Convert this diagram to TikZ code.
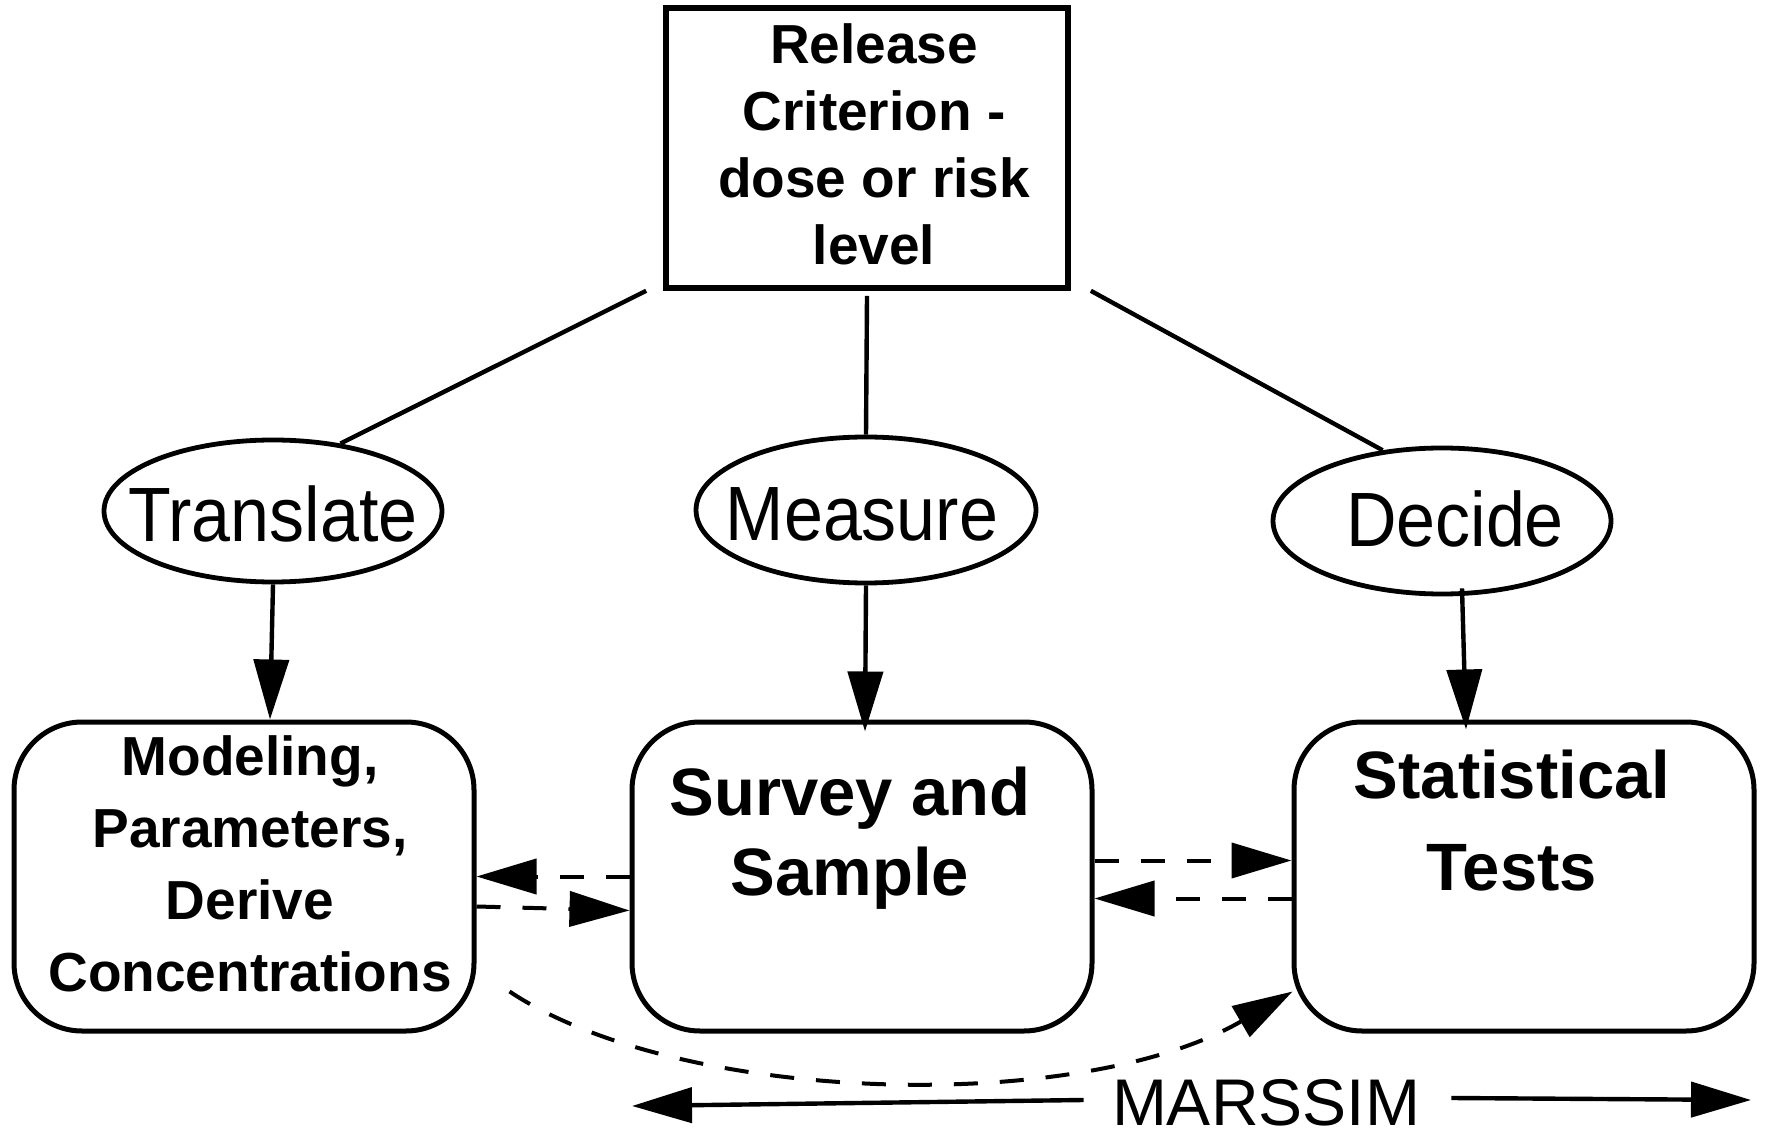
\documentclass[tikz,border=0pt]{standalone}
\usepackage{fontspec}
\setmainfont{Liberation Sans}
\usetikzlibrary{arrows.meta,shapes.geometric}
\begin{document}
\begin{tikzpicture}[x=0.5pt,y=-0.5pt,
  tip/.style={-{Triangle[length=30pt,width=17.5pt]}},
  conn/.style={line width=2.2pt},
  dsh/.style={line width=2pt, dash pattern=on 12pt off 11pt},
  rbox/.style={draw, line width=2.5pt, rounded corners=34pt, minimum width=230pt, minimum height=154.5pt, inner sep=0pt},
  oval/.style={draw, ellipse, line width=2.4pt, inner sep=0pt},
  ovtext/.style={inner sep=0pt, font=\fontsize{35pt}{40pt}\selectfont},
  smalltext/.style={inner sep=0pt, align=center, font=\fontsize{27.5pt}{36pt}\selectfont\bfseries},
  bigtext/.style={inner sep=0pt, align=center, font=\fontsize{33.5pt}{40pt}\selectfont\bfseries}]
\useasboundingbox (0,0) rectangle (1766,1138);

% top box
\node[draw, line width=2.8pt, minimum width=201pt, minimum height=140pt, inner sep=0pt] (rel) at (867,148) {};
\node[inner sep=0pt, align=center, font=\fontsize{27.5pt}{33.5pt}\selectfont\bfseries] (relt) at (874,144) {Release\\Criterion -\hspace*{14pt}\\dose or risk\\level};

% ellipses
\node[oval, minimum width=169pt, minimum height=71pt] (trans) at (273,511) {};
\node[oval, minimum width=170pt, minimum height=73pt] (meas) at (866,510) {};
\node[oval, minimum width=169pt, minimum height=73pt] (dec) at (1442,521) {};
\node[ovtext] (transt) at (273,514) {\scalebox{1}[1.1]{Translate}};
\node[ovtext] (meast) at (862,514) {\scalebox{1}[1.1]{Measure}};
\node[ovtext] (dect) at (1455,519) {\scalebox{1}[1.1]{Decide}};

% bottom boxes
\node[rbox] (mod) at (244,876.5) {};
\node[rbox] (surv) at (862,876.5) {};
\node[rbox] (stat) at (1524,876.5) {};
\node[smalltext] (modt) at (250,864) {Modeling,\\Parameters,\\Derive\\Concentrations};
\node[bigtext] (survt) at (850,838) {Survey and\\Sample};
\node[bigtext, font=\fontsize{33.5pt}{46pt}\selectfont\bfseries] (statt) at (1512,821) {Statistical\\Tests};

% MARSSIM
\node[inner sep=0pt, font=\fontsize{33pt}{40pt}\selectfont] (mars) at (1266,1103) {MARSSIM};
\coordinate (ml) at (632,1106);
\coordinate (mr) at (1751,1100);

% lines from top box
\draw[conn] ([xshift=-8.5pt]rel.south west) -- (trans.45);
\draw[conn] ([yshift=-2.5pt]rel.south) -- (meas.north);
\draw[conn] ([xshift=10pt]rel.south east) -- (dec.130);

% down arrows
\draw[conn,tip] (trans.south) -- ([xshift=13pt]mod.north);
\draw[conn,tip] (meas.south) -- ([xshift=1.5pt,yshift=-6pt]surv.north);
\draw[conn,tip] ([xshift=10pt,yshift=4pt]dec.south) -- ([xshift=-29pt,yshift=-5pt]stat.north);

% dashed arrows
\draw[dsh,tip] (surv.west) -- (mod.east);
\draw[dsh,tip] ([yshift=-15pt]mod.east) -- ([yshift=-17pt]surv.west);
\draw[dsh,tip] ([yshift=8pt]surv.east) -- ([yshift=8pt]stat.west);
\draw[dsh,tip] ([yshift=-11pt]stat.west) -- ([yshift=-11pt]surv.east);

\coordinate (cs) at ([xshift=16.5pt,yshift=21pt]mod.south east);
\coordinate (ce) at ([xshift=0.5pt,yshift=21pt]stat.south west);
\draw[dsh,tip] (cs) .. controls (680,1105) and (1080,1115) .. (ce);

% MARSSIM arrows
\draw[conn,tip] ([xshift=-14pt,yshift=1.5pt]mars.west) -- (ml);
\draw[conn,tip] ([xshift=15.5pt,yshift=2.5pt]mars.east) -- (mr);
\end{tikzpicture}
\end{document}
